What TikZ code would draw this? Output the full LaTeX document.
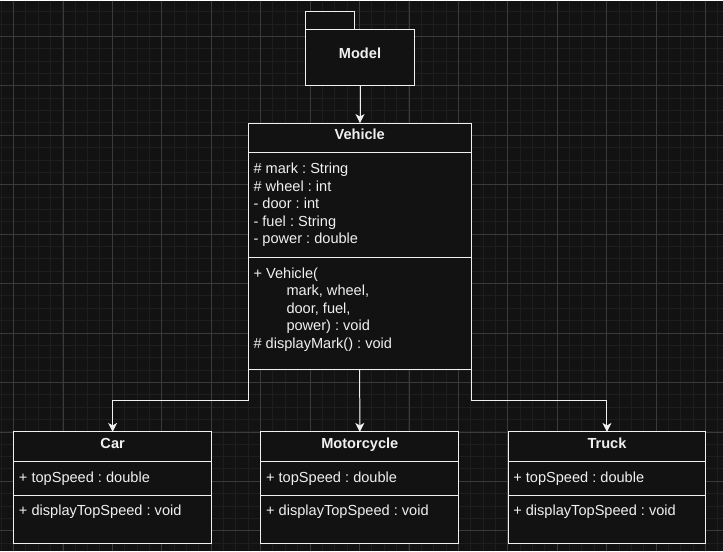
\documentclass[tikz,border=0pt]{standalone}
\usepackage{fontspec}
\setmainfont{Liberation Sans}
\frenchspacing
\usetikzlibrary{arrows.meta,positioning}
\definecolor{canvas}{HTML}{121212}
\definecolor{gridminor}{HTML}{1E1E1E}
\definecolor{gridmajor}{HTML}{3A3A3A}
\definecolor{ink}{HTML}{F0F0F0}
\tikzset{
  box/.style={draw=ink,fill=canvas,line width=1pt,inner sep=0pt,outer sep=0pt},
  title/.style={text=ink,font={\fontsize{14.6}{17.5}\selectfont\bfseries},inner sep=0pt,anchor=base},
  member/.style={text=ink,font={\fontsize{14.6}{17.5}\selectfont},inner sep=0pt,anchor=north west,align=left},
  link/.style={draw=ink,line width=1pt,-{Stealth[length=9pt,width=9pt,inset=2.5pt]}}
}
\begin{document}
\begin{tikzpicture}[x=1pt,y=-1pt]
  \fill[canvas] (0,0) rectangle (723,551);
  % grid
  \foreach \i in {0,...,58} \draw[gridminor,line width=1pt] ({0.625+12.375*\i},0) -- ++(0,551);
  \foreach \i in {0,...,43} \draw[gridminor,line width=1pt] (0,{11.25+12.375*\i}) -- ++(723,0);
  \foreach \i in {0,...,14} \draw[gridmajor,line width=0.8pt] ({13+49.5*\i},0) -- ++(0,551);
  \foreach \i in {0,...,10} \draw[gridmajor,line width=0.8pt] (0,{36+49.5*\i}) -- ++(723,0);

  % package
  \node[box,minimum width=110pt,minimum height=56.6pt] (model) at (360,57) {};
  \node[box,minimum width=49pt,minimum height=17.7pt,anchor=south west] (modeltab) at (model.north west) {};
  \node[title] (modeltitle) at (360,58.3) {Model};

  % Vehicle
  \node[box,minimum width=223pt,minimum height=29.6pt,anchor=north west] (vhead) at (248.2,122.7) {};
  \node[box,minimum width=223pt,minimum height=104.7pt,anchor=north] (vattr) at (vhead.south) {};
  \node[box,minimum width=223pt,minimum height=113pt,anchor=north] (vmeth) at (vattr.south) {};
  \node[title] (vtitle) at ([yshift=-16.5pt]vhead.north) {Vehicle};
  \node[member] (vattrtext) at ([xshift=5pt,yshift=-10.6pt]vattr.north west)
    {\# mark : String\\\# wheel : int\\- door : int\\- fuel : String\\- power : double};
  \node[member] (vmethtext) at ([xshift=5pt,yshift=-10.6pt]vmeth.north west)
    {+ Vehicle(\\\hspace*{33pt}mark, wheel,\\\hspace*{33pt}door, fuel,\\\hspace*{33pt}power) : void\\\# displayMark() : void};

  % subclasses
  \foreach \name/\label/\x in {car/Car/13.3,moto/Motorcycle/260.8,truck/Truck/508.3}{
    \node[box,minimum width=198pt,minimum height=30pt,anchor=north west] (\name-head) at (\x,432) {};
    \node[box,minimum width=198pt,minimum height=33.3pt,anchor=north] (\name-attr) at (\name-head.south) {};
    \node[box,minimum width=198pt,minimum height=48pt,anchor=north] (\name-meth) at (\name-attr.south) {};
    \node[title] (\name-title) at ([yshift=-16.5pt]\name-head.north) {\label};
    \node[member] (\name-attrtext) at ([xshift=5pt,yshift=-9.9pt]\name-attr.north west) {+ topSpeed : double};
    \node[member] (\name-methtext) at ([xshift=5pt,yshift=-10.1pt]\name-meth.north west) {+ displayTopSpeed : void};
  }

  % connectors
  \draw[link] (model.south) -- (model.south |- vhead.north);
  \draw[link] (vmeth.south) -- (moto-head.north);
  \draw[link] (vmeth.south west) -- ++(0,31) -| (car-head.north);
  \draw[link] (vmeth.south east) -- ++(0,31) -| (truck-head.north);
\end{tikzpicture}
\end{document}
